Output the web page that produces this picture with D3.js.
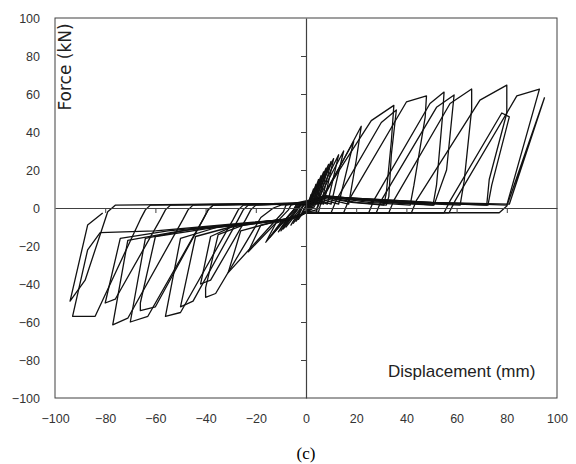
<!DOCTYPE html>
<html>
<head>
<meta charset="utf-8">
<script src="https://cdn.jsdelivr.net/npm/d3@7"></script>
<style>
  html, body { margin: 0; padding: 0; background: #ffffff; }
  svg { display: block; }
</style>
</head>
<body>
<svg id="chart" width="576" height="464"></svg>
<script>
// ---- data (displacement mm, force kN) ----
const xTicks = [-100, -80, -60, -40, -20, 0, 20, 40, 60, 80, 100];
const yTicks = [-100, -80, -60, -40, -20, 0, 20, 40, 60, 80, 100];
const xTitle = "Displacement (mm)";
const yTitle = "Force (kN)";
const caption = "(c)";

const cyc01 = [[0,-1],[2,7],[1,1],[0,1],[-2,-4],[-1,-2],[0,-1.5]];
const cyc02 = [[0,-1],[3,10],[1.5,1.5],[0,1.5],[-3,-6],[-1.5,-3],[0,-2]];
const cyc03 = [[0,-1.5],[0.5,0],[4,12.5],[2,2],[0.5,2.5],[-1,1.5],[-4,-7],[-2,-3.5],[0,-2.5]];
const cyc04 = [[0,-2],[1,0],[5,15],[3,2],[1,2.5],[-1,1.5],[-5,-8],[-3,-4],[-1,-3],[0,-2.5]];
const cyc05 = [[0,-2],[1,0],[6,17],[3.5,2],[1,3],[-1,1.5],[-6,-9],[-4,-4.5],[-1,-3],[0,-2.5]];
const cyc06 = [[0,-2.5],[1,0],[7,19],[4,2],[1.5,3],[-1,1.5],[-2,0],[-8,-10],[-5,-5],[-1,-3],[0,-2.5]];
const cyc07 = [[0,-2.5],[1.5,0],[8,21],[4.5,2],[2,3.5],[-2,1.5],[-3,0],[-9,-11],[-6,-5.5],[-2,-3.5],[0,-2.5]];
const cyc08 = [[0,-2.5],[1.5,0],[9,23],[5,2],[2,3.5],[-2,1.5],[-3,0],[-10,-12],[-7,-6],[-2,-4],[0,-2.5]];
const cyc09 = [[0,-2.5],[2,0],[10,24.5],[6,2],[2.5,4],[-2.5,1.5],[-3.5,0],[-11,-12.5],[-8,-6.5],[-2.5,-4],[0,-2.5]];
const cyc10 = [[0,-2.5],[2,0],[11,26],[7,2],[3,4],[-3,1.5],[-4,0],[-13,-13],[-9,-7],[-3,-4],[0,-2.5]];
const cyc11 = [[0,-2.5],[2.5,0],[13,28],[8.5,2],[3.5,4.5],[-3.5,1.5],[-4.5,-0.5],[-14.5,-15.5],[-10,-7.5],[-3.5,-4.5],[0,-2.5]];
const cyc12 = [[0,-2.5],[3,0],[15,30],[10,2],[4,4.5],[-4,1.5],[-5,-1],[-16,-18],[-12,-8],[-4,-4.5],[0,-2.5]];
const cyc13 = [[0,-2.5],[4,-1],[5,2],[19,35],[13,2],[5,5],[-6,1.5],[-7,-1],[-23,-23],[-18,-9],[-5,-5],[0,-2.5]];
const cyc14 = [[0,-2.5],[5,-2],[6,3],[22,43],[20,25],[17,2],[6,5.5],[-8,1.5],[-9,-2],[-31,-34],[-26,-12],[-6,-5],[0,-2.5]];
const cyc15 = [[0,-2.5],[4,-2.5],[5.5,4],[26,46],[35,54],[34,35],[32,8],[31,1.5],[18,3],[6,6],[1,2.5],
               [-10,1.5],[-13,0],[-18,-5],[-36,-45],[-40,-47],[-40,-42],[-35,-14],[-25,-9],[-6,-5.5],[0,-2.5]];
const cyc16 = [[0,-2.5],[10,-2.5],[12,4],[30,45],[36,51.6],[34,28],[33,6],[32,1.5],[20,3],[7,6],[1,2.5],
               [-20,1.5],[-22,-1],[-24,-6],[-38,-38],[-42,-40],[-38,-15],[-28,-9],[-6,-5.5],[0,-2.5]];
const cyc17 = [[0,-2.5],[15,-2.5],[17,4],[40,55.8],[48,59],[47.5,48],[43,12],[41.5,1.5],[25,3],[8,6],[1,2.5],
               [-23,1.5],[-25,-1],[-27,-6],[-45,-49],[-50,-52],[-44,-15],[-30,-10],[-7,-6],[0,-2.5]];
const cyc18 = [[0,-2.5],[25,-2.5],[27,4],[49.4,55],[55,61],[54.5,50],[52,12],[50.6,1.5],[30,3],[8,6],[1,2.5],
               [-25,1.5],[-27,-1],[-29,-6],[-50,-55],[-56,-57],[-50,-16],[-35,-10],[-7,-6],[0,-2.5]];
const cyc19 = [[0,-2.5],[28,-2.5],[30,4],[52,53],[59,59.5],[56,20],[51,1.5],[30,3.5],[8,6.5],[1,2.5],
               [-37,1.5],[-39,-1],[-41,-6],[-60,-52],[-66,-54],[-66,-50],[-60,-15],[-40,-11],[-8,-6],[0,-2.5]];
const cyc20 = [[0,-2.5],[33,-2.5],[35,4],[57.4,55],[66,62.6],[66,52],[63,14],[61.4,1.5],[35,3],[8,6],[1,2.5],
               [-37,1.5],[-39,-1],[-41,-6],[-63,-57],[-70,-60],[-64,-16],[-45,-11],[-8,-6],[0,-2.5]];
const cyc21 = [[0,-2.5],[42,-2.5],[44,4],[69.3,56.8],[80,64.7],[80,50],[73,15],[72,1.5],[40,3],[8,6],[1,2.5],
               [-45,1.5],[-47,-1],[-49,-6],[-71,-58],[-77,-61.5],[-71,-17],[-50,-12],[-8,-6],[0,-2.5]];
const cyc22 = [[0,-2.5],[55,-2.5],[57.5,4],[78,50],[81,48],[74,12],[72.5,1.5],[45,3],[8,6],[1,2.5],
               [-54,1.5],[-56,-1],[-58,-6],[-76,-48],[-80,-50],[-74,-16],[-55,-12],[-8,-6],[0,-2.5]];
const cyc23 = [[0,-2.5],[57,-2.5],[59.5,4],[84,59],[93,62.6],[80,1.5],[50,3],[8,6],[1,2.5],
               [-62,1.5],[-64,-1],[-66,-6],[-84,-57],[-93,-57],[-87,-22],[-82,-13],[-60,-12],[-8,-6],[0,-2.5]];
const cyc24 = [[0,-2.5],[77,-2.5],[80,1],[95,58],[81,2],[50,3],[8,6],[1,2.5],
               [-76,1.5],[-79,-2],[-88,-38],[-94,-49],[-87,-9],[-81,-2.6]];

const cycles = [cyc01, cyc02, cyc03, cyc04, cyc05, cyc06, cyc07, cyc08, cyc09, cyc10, cyc11, cyc12,
                cyc13, cyc14, cyc15, cyc16, cyc17, cyc18, cyc19, cyc20, cyc21, cyc22, cyc23, cyc24];

// ---- layout ----
const plot = { left: 55, right: 557, top: 18, bottom: 398 };
const axisColor = "#404040";

const svg = d3.select("#chart");
const x = d3.scaleLinear().domain([-100, 100]).range([plot.left, plot.right]);
const y = d3.scaleLinear().domain([-100, 100]).range([plot.bottom, plot.top]);

// frame
svg.append("rect")
  .attr("x", plot.left).attr("y", plot.top)
  .attr("width", plot.right - plot.left).attr("height", plot.bottom - plot.top)
  .attr("fill", "none").attr("stroke", axisColor).attr("stroke-width", 1);

// outer tick labels
const labelFont = "'Liberation Sans', Arial, sans-serif";
const gxl = svg.append("g").attr("transform", `translate(0,${plot.bottom})`)
  .call(d3.axisBottom(x).tickValues(xTicks).tickSize(0).tickPadding(16).tickFormat(d3.format("d")));
gxl.select(".domain").remove();
gxl.selectAll("text").attr("font-family", labelFont).attr("font-size", 12.5).attr("fill", "#333");

const gyl = svg.append("g").attr("transform", `translate(${plot.left},0)`)
  .call(d3.axisLeft(y).tickValues(yTicks).tickSize(0).tickPadding(15).tickFormat(d3.format("d")));
gyl.select(".domain").remove();
gyl.selectAll("text").attr("font-family", labelFont).attr("font-size", 12.5).attr("fill", "#333");

// hysteresis curve
const line = d3.line().x(d => x(d[0])).y(d => y(d[1]));
svg.append("clipPath").attr("id", "clip").append("rect")
  .attr("x", plot.left).attr("y", plot.top)
  .attr("width", plot.right - plot.left).attr("height", plot.bottom - plot.top);
svg.append("g").attr("clip-path", "url(#clip)")
  .selectAll("path.loop").data(cycles).join("path")
  .attr("class", "loop")
  .attr("d", line)
  .attr("fill", "none").attr("stroke", "#111").attr("stroke-width", 1.3)
  .attr("stroke-linejoin", "round");

// centre axes with ticks
const gx0 = svg.append("g").attr("transform", `translate(0,${y(0)})`)
  .call(d3.axisBottom(x).tickValues(xTicks.filter(v => v > -100 && v < 100)).tickSize(5).tickSizeOuter(0).tickFormat(""));
gx0.select(".domain").attr("stroke", axisColor).attr("stroke-width", 1.2);
gx0.selectAll(".tick line").attr("stroke", axisColor);

const gy0 = svg.append("g").attr("transform", `translate(${x(0)},0)`)
  .call(d3.axisLeft(y).tickValues(yTicks.filter(v => v > -100 && v < 100)).tickSize(5).tickSizeOuter(0).tickFormat(""));
gy0.select(".domain").attr("stroke", axisColor).attr("stroke-width", 1.2);
gy0.selectAll(".tick line").attr("stroke", axisColor);

// titles
svg.append("text")
  .attr("transform", "translate(71,67) rotate(-90)")
  .attr("text-anchor", "middle")
  .attr("font-family", "'DejaVu Sans', Verdana, sans-serif")
  .attr("font-size", 17)
  .attr("fill", "#222")
  .text(yTitle);

svg.append("text")
  .attr("x", 388).attr("y", 377)
  .attr("font-family", labelFont)
  .attr("font-size", 17)
  .attr("fill", "#222")
  .text(xTitle);

svg.append("text")
  .attr("x", 306).attr("y", 459)
  .attr("text-anchor", "middle")
  .attr("font-family", "'Liberation Serif', 'Times New Roman', serif")
  .attr("font-size", 17)
  .attr("fill", "#000")
  .text(caption);
</script>
</body>
</html>
